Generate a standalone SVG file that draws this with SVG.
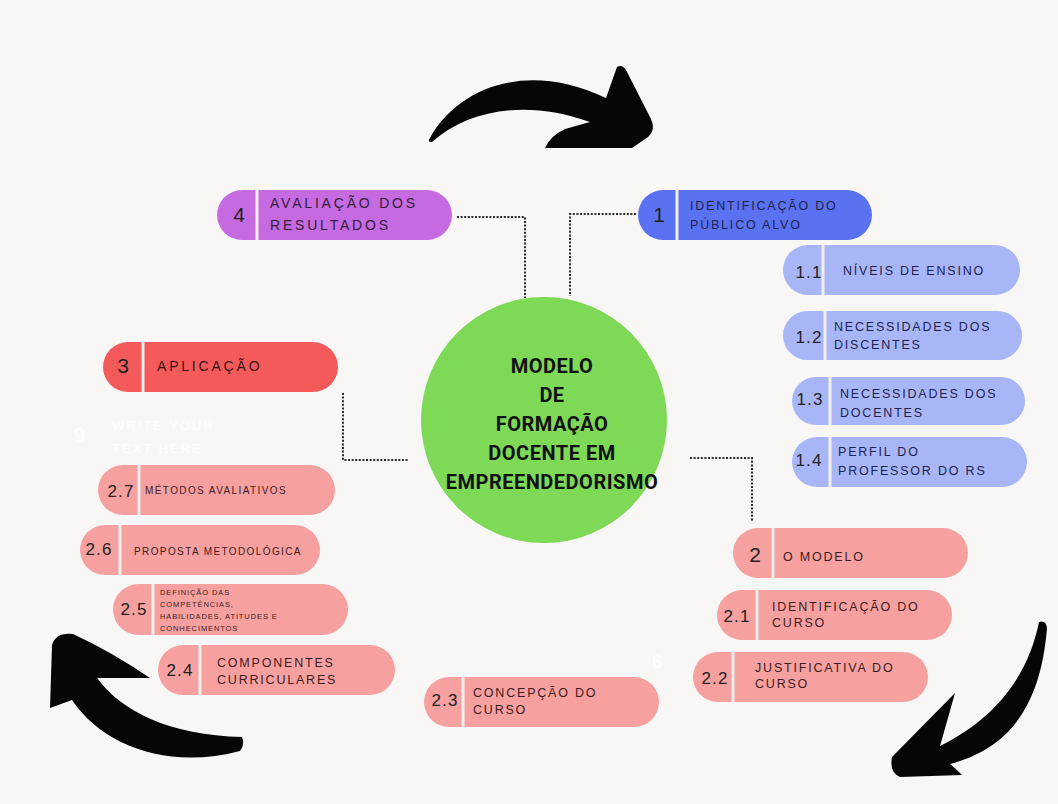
<svg xmlns="http://www.w3.org/2000/svg" width="1058" height="804" viewBox="0 0 1058 804">
<style>
.bg{fill:#f8f7f6}
.div{stroke:#f3efef;stroke-width:3}
.lbl{font-family:"Liberation Sans",Arial,sans-serif;font-size:12.5px;letter-spacing:1.8px}
.lbl-l{font-family:"Liberation Sans",Arial,sans-serif;font-size:14px;letter-spacing:2.8px}
.lbl-s{font-family:"Liberation Sans",Arial,sans-serif;font-size:10px;letter-spacing:1.4px}
.lbl-xs{font-family:"Liberation Sans",Arial,sans-serif;font-size:7.5px;letter-spacing:0.9px}
.num{font-family:"Liberation Sans",Arial,sans-serif;text-anchor:middle;fill:#222}
.n1{font-size:21px}
.n2{font-size:17px;letter-spacing:1.2px}
.pink{fill:#f7a0a0}
.ptx{fill:#3d1d20}
.btx{fill:#1d2350}
.conn{fill:none;stroke:#2a2a2a;stroke-width:2;stroke-dasharray:2 1.6}
.faint{font-family:"Liberation Sans",Arial,sans-serif;fill:#ffffff;opacity:0.85}
.arrow{fill:#060606}
.center{font-family:Roboto,"Liberation Sans",Arial,sans-serif;font-weight:700;font-size:20px;letter-spacing:0.5px;text-anchor:middle;fill:#111}
</style>
<rect class="bg" x="0" y="0" width="1058" height="804"/>

<!-- faint hidden texts -->
<g id="faint-texts">
<text class="faint" x="74" y="442" font-size="20">9</text>
<text class="faint" x="112" y="430" font-size="13" letter-spacing="2">WRITE YOUR</text>
<text class="faint" x="112" y="453" font-size="13" letter-spacing="2">TEXT HERE</text>
<text class="faint" x="652" y="668" font-size="19">6</text>
</g>

<!-- big arrows -->
<g id="arrows">
<path class="arrow" d="M 430,138 C 455,92 522,58 606,98 L 617,67 Q 622,64 626,70 L 651,119 Q 656,130 648,137 L 632,148 L 545,148 Q 550,136 565,129 L 590,122 C 530,100 470,108 432,142 Q 427,142 430,138 Z"/>
<path class="arrow" d="M 52,645 Q 56,632 73,634 Q 112,652 150,678 L 97,678 C 122,712 170,735 242,737 Q 245,745 240,751 C 168,770 103,746 72,700 L 50,708 Z"/>
<path class="arrow" d="M 955,693 L 892,757 Q 889,772 900,777 L 962,775 Q 955,768 950,764 C 1002,750 1040,715 1047,628 Q 1046,620 1039,622 C 1028,676 996,718 940,746 Q 948,718 955,693 Z"/>
</g>

<!-- connectors -->
<g id="connectors">
<path class="conn" d="M 457,217 H 525 V 298"/>
<path class="conn" d="M 636,214 H 570 V 296"/>
<path class="conn" d="M 343,393 V 460 H 408"/>
<path class="conn" d="M 690,458 H 752 V 522"/>
</g>

<!-- center -->
<g id="center">
<circle cx="544" cy="420" r="123" fill="#7ed957"/>
<text class="center" x="552" y="373">MODELO</text>
<text class="center" x="552" y="402">DE</text>
<text class="center" x="552" y="431">FORMAÇÃO</text>
<text class="center" x="552" y="460">DOCENTE EM</text>
<text class="center" x="552" y="489">EMPREENDEDORISMO</text>
</g>

<!-- node 4 -->
<g id="node-4">
<rect x="217" y="190" width="235" height="50" rx="25" fill="#c66ae2"/>
<line class="div" x1="257" y1="190" x2="257" y2="240"/>
<text class="num n1" x="239" y="222">4</text>
<text class="lbl-l" x="270" y="208" fill="#33203a">AVALIAÇÃO DOS</text>
<text class="lbl-l" x="270" y="230" fill="#33203a">RESULTADOS</text>
</g>

<!-- node 1 -->
<g id="node-1">
<rect x="638" y="190" width="234" height="50" rx="25" fill="#5a72f1"/>
<line class="div" x1="677" y1="190" x2="677" y2="240"/>
<text class="num n1" x="659" y="222">1</text>
<text class="lbl btx" x="690" y="210">IDENTIFICAÇÃO DO</text>
<text class="lbl btx" x="690" y="229">PÚBLICO ALVO</text>
</g>

<g id="node-1-1">
<rect x="783" y="245" width="237" height="50" rx="25" fill="#a8b6f8"/>
<line class="div" x1="823" y1="245" x2="823" y2="295"/>
<text class="num n2" x="809" y="278">1.1</text>
<text class="lbl btx" x="843" y="275">NÍVEIS DE ENSINO</text>
</g>

<g id="node-1-2">
<rect x="783" y="311" width="239" height="49" rx="24.5" fill="#a8b6f8"/>
<line class="div" x1="825" y1="311" x2="825" y2="360"/>
<text class="num n2" x="809" y="343">1.2</text>
<text class="lbl btx" x="834" y="331">NECESSIDADES DOS</text>
<text class="lbl btx" x="834" y="349">DISCENTES</text>
</g>

<g id="node-1-3">
<rect x="792" y="377" width="233" height="48" rx="24" fill="#a8b6f8"/>
<line class="div" x1="830" y1="377" x2="830" y2="425"/>
<text class="num n2" x="810" y="405">1.3</text>
<text class="lbl btx" x="840" y="398">NECESSIDADES DOS</text>
<text class="lbl btx" x="840" y="417">DOCENTES</text>
</g>

<g id="node-1-4">
<rect x="792" y="437" width="235" height="50" rx="25" fill="#a8b6f8"/>
<line class="div" x1="830" y1="437" x2="830" y2="487"/>
<text class="num n2" x="809" y="466">1.4</text>
<text class="lbl btx" x="838" y="456">PERFIL DO</text>
<text class="lbl btx" x="838" y="475">PROFESSOR DO RS</text>
</g>

<!-- node 3 -->
<g id="node-3">
<rect x="103" y="342" width="235" height="50" rx="25" fill="#f45a5a"/>
<line class="div" x1="143" y1="342" x2="143" y2="392"/>
<text class="num n1" x="123" y="373">3</text>
<text class="lbl-l" x="157" y="371" fill="#3a1416">APLICAÇÃO</text>
</g>

<g id="node-2-7">
<rect class="pink" x="98" y="465" width="237" height="50" rx="25"/>
<line class="div" x1="139" y1="465" x2="139" y2="515"/>
<text class="num n2" x="121" y="497">2.7</text>
<text class="lbl-s ptx" x="145" y="494">MÉTODOS AVALIATIVOS</text>
</g>

<g id="node-2-6">
<rect class="pink" x="80" y="525" width="240" height="50" rx="25"/>
<line class="div" x1="120" y1="525" x2="120" y2="575"/>
<text class="num n2" x="99" y="555">2.6</text>
<text class="lbl-s ptx" x="134" y="555">PROPOSTA  METODOLÓGICA</text>
</g>

<g id="node-2-5">
<rect class="pink" x="113" y="584" width="235" height="51" rx="25.5"/>
<line class="div" x1="153" y1="584" x2="153" y2="635"/>
<text class="num n2" x="134" y="615">2.5</text>
<text class="lbl-xs ptx" x="160" y="595">DEFINIÇÃO DAS</text>
<text class="lbl-xs ptx" x="160" y="607">COMPETÊNCIAS,</text>
<text class="lbl-xs ptx" x="160" y="619">HABILIDADES, ATITUDES E</text>
<text class="lbl-xs ptx" x="160" y="631">CONHECIMENTOS</text>
</g>

<g id="node-2-4">
<rect class="pink" x="158" y="645" width="237" height="50" rx="25"/>
<line class="div" x1="200" y1="645" x2="200" y2="695"/>
<text class="num n2" x="180" y="676">2.4</text>
<text class="lbl ptx" x="217" y="667">COMPONENTES</text>
<text class="lbl ptx" x="217" y="684">CURRICULARES</text>
</g>

<g id="node-2-3">
<rect class="pink" x="424" y="677" width="235" height="50" rx="25"/>
<line class="div" x1="463" y1="677" x2="463" y2="727"/>
<text class="num n2" x="445" y="706">2.3</text>
<text class="lbl ptx" x="473" y="697">CONCEPÇÃO DO</text>
<text class="lbl ptx" x="473" y="714">CURSO</text>
</g>

<g id="node-2">
<rect class="pink" x="733" y="528" width="235" height="50" rx="25"/>
<line class="div" x1="773" y1="528" x2="773" y2="578"/>
<text class="num n1" x="755" y="562">2</text>
<text class="lbl ptx" x="783" y="561" font-size="13">O MODELO</text>
</g>

<g id="node-2-1">
<rect class="pink" x="717" y="590" width="235" height="50" rx="25"/>
<line class="div" x1="757" y1="590" x2="757" y2="640"/>
<text class="num n2" x="737" y="622">2.1</text>
<text class="lbl ptx" x="772" y="611">IDENTIFICAÇÃO DO</text>
<text class="lbl ptx" x="772" y="627">CURSO</text>
</g>

<g id="node-2-2">
<rect class="pink" x="693" y="652" width="235" height="50" rx="25"/>
<line class="div" x1="733" y1="652" x2="733" y2="702"/>
<text class="num n2" x="715" y="684">2.2</text>
<text class="lbl ptx" x="755" y="672">JUSTIFICATIVA DO</text>
<text class="lbl ptx" x="755" y="688">CURSO</text>
</g>
</svg>
